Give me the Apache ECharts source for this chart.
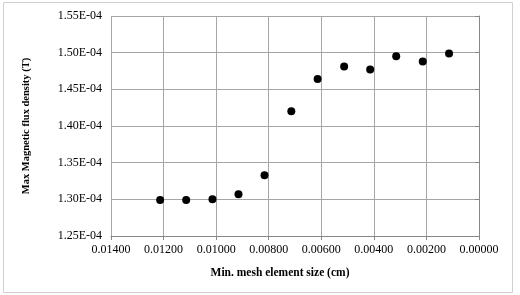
<!DOCTYPE html>
<html>
<head>
<meta charset="utf-8">
<script src="https://cdn.jsdelivr.net/npm/echarts@6/dist/echarts.min.js"></script>
<style>
html,body{margin:0;padding:0;background:#fff;}
#chart{width:520px;height:295px;}
</style>
</head>
<body>
<div id="chart"></div>
<script>
// Min. mesh element size (cm)
var meshSize = [0.01213, 0.01114, 0.01014, 0.00915, 0.00816, 0.00714, 0.00614, 0.00513, 0.00414, 0.00315, 0.00214, 0.00114];
// Max Magnetic flux density (T)
var maxFlux = [1.299e-4, 1.299e-4, 1.300e-4, 1.307e-4, 1.333e-4, 1.420e-4, 1.464e-4, 1.481e-4, 1.477e-4, 1.495e-4, 1.488e-4, 1.499e-4];
var xAxisTitle = 'Min. mesh element size (cm)';
var yAxisTitle = 'Max Magnetic flux density (T)';

var points = meshSize.map(function (x, i) { return [x, maxFlux[i]]; });

var chart = echarts.init(document.getElementById('chart'), null, {renderer: 'canvas'});
var font = 'Liberation Serif';
chart.setOption({
  animation: false,
  backgroundColor: '#ffffff',
  graphic: [{
    type: 'rect',
    shape: {x: 3.5, y: 2.5, width: 509, height: 290},
    style: {fill: 'none', stroke: '#d0d0d0', lineWidth: 1},
    silent: true
  }],
  grid: {left: 111, right: 41, top: 16, bottom: 59, containLabel: false},
  xAxis: {
    type: 'value',
    inverse: true,
    min: 0,
    max: 0.014,
    interval: 0.002,
    name: xAxisTitle,
    nameLocation: 'middle',
    nameGap: 31,
    nameTextStyle: {fontFamily: font, fontSize: 11.5, fontWeight: 'bold', color: '#000', padding: [0, 30, 0, 0]},
    axisLine: {show: true, lineStyle: {color: '#878787', width: 1}},
    axisTick: {show: true, length: 4, lineStyle: {color: '#878787'}},
    axisLabel: {
      fontFamily: font, fontSize: 12, color: '#000', margin: 8,
      formatter: function (v) { return v.toFixed(5); }
    },
    splitLine: {show: true, lineStyle: {color: '#a6a6a6', width: 1}}
  },
  yAxis: {
    type: 'value',
    min: 1.25e-4,
    max: 1.55e-4,
    interval: 0.05e-4,
    name: yAxisTitle,
    nameLocation: 'middle',
    nameGap: 79,
    nameRotate: 90,
    nameTextStyle: {fontFamily: font, fontSize: 10.5, fontWeight: 'bold', color: '#000'},
    axisLine: {show: true, lineStyle: {color: '#878787', width: 1}},
    axisTick: {show: true, length: 4, lineStyle: {color: '#878787'}},
    axisLabel: {
      fontFamily: font, fontSize: 12, color: '#000', margin: 9,
      formatter: function (v) { return (v * 1e4).toFixed(2) + 'E-04'; }
    },
    splitLine: {show: true, lineStyle: {color: '#a6a6a6', width: 1}}
  },
  series: [{
    type: 'scatter',
    data: points,
    symbol: 'circle',
    symbolSize: 8,
    itemStyle: {color: '#000000', opacity: 1}
  }]
});
</script>
</body>
</html>
